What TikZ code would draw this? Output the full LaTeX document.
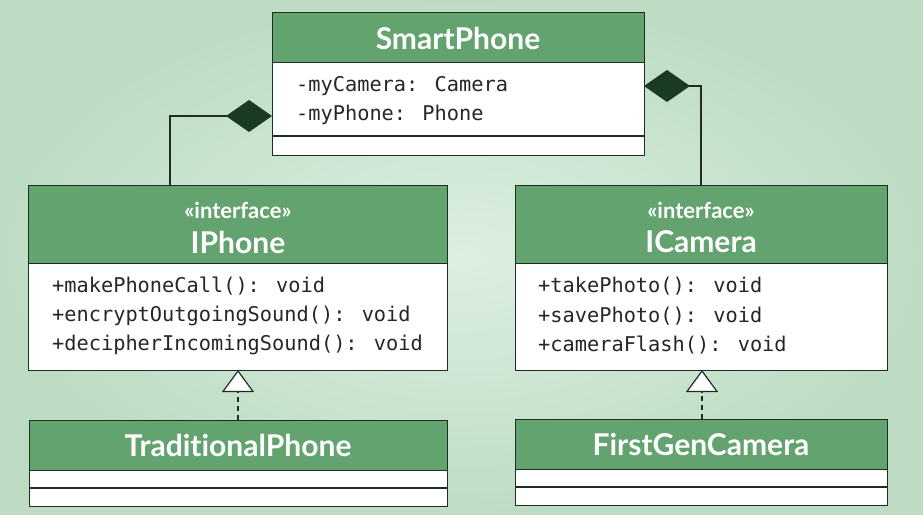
\documentclass[tikz,border=0pt]{standalone}
\usepackage{fontspec}
\setmainfont{Lato}[Ligatures=NoCommon]
\newfontfamily\monofam{DejaVu Sans Mono}
\usetikzlibrary{arrows.meta,positioning}
\definecolor{hdrgreen}{RGB}{99,163,111}
\definecolor{bgA}{RGB}{220,239,224}
\definecolor{bgB}{RGB}{190,220,196}
\definecolor{edge}{RGB}{30,45,33}
\definecolor{dia}{RGB}{27,58,35}
\tikzset{
  hdr/.style={draw=edge, line width=1.2pt, fill=hdrgreen, text=white, anchor=north west, inner sep=0pt},
  bodybox/.style={draw=edge, line width=1.2pt, fill=white, anchor=north west, inner sep=0pt},
  ttl/.style={text=white, font=\bfseries\fontsize{30}{32}\selectfont, inner sep=0pt},
  stereo/.style={text=white, font=\bfseries\fontsize{22}{24}\selectfont, inner sep=0pt},
  memb/.style={text=black!85, font=\monofam\fontsize{20.3}{22}\selectfont, anchor=west, inner sep=0pt},
  comp/.style={draw=edge, line width=1.2pt, -{Diamond[length=46pt,width=32pt,fill=dia,color=dia]}},
  realz/.style={draw=edge, line width=1.2pt, dashed, dash pattern=on 5pt off 4pt, -{Triangle[open,length=22pt,width=32pt,fill=white,color=edge]}}
}
\begin{document}
\begin{tikzpicture}[x=1pt,y=-1pt]
\useasboundingbox (0,0) rectangle (923,514);
\shade[inner color=bgA, outer color=bgB] (0,0) rectangle (923,514);

% SmartPhone
\node[bodybox, minimum width=372pt, minimum height=143pt] (spb) at (272,12) {};
\node[hdr, minimum width=372pt, minimum height=50pt] (sph) at (272,12) {};
\node[ttl] (spt) at (458,38) {SmartPhone};
\draw[draw=edge, line width=1.2pt] (272,136) -- (644,136);
\node[memb] (sp1) at (296,86) {-myCamera: Camera};
\node[memb] (sp2) at (296,115) {-myPhone: Phone};

% IPhone
\node[bodybox, minimum width=419pt, minimum height=185pt] (ipb) at (28,185) {};
\node[hdr, minimum width=419pt, minimum height=78pt] (iph) at (28,185) {};
\node[stereo] (ips) at (238,210) {«interface»};
\node[ttl] (ipt) at (238,242) {IPhone};
\node[memb] (ip1) at (52,286) {+makePhoneCall(): void};
\node[memb] (ip2) at (52,316) {+encryptOutgoingSound(): void};
\node[memb] (ip3) at (52,345) {+decipherIncomingSound(): void};

% ICamera
\node[bodybox, minimum width=372pt, minimum height=185pt] (icb) at (515,185) {};
\node[hdr, minimum width=372pt, minimum height=78pt] (ich) at (515,185) {};
\node[stereo] (ics) at (701,210) {«interface»};
\node[ttl] (ict) at (701,242) {ICamera};
\node[memb] (ic1) at (538,286) {+takePhoto(): void};
\node[memb] (ic2) at (538,316) {+savePhoto(): void};
\node[memb] (ic3) at (538,345) {+cameraFlash(): void};

% TraditionalPhone
\node[bodybox, minimum width=418pt, minimum height=86pt] (tpb) at (29,420) {};
\node[hdr, minimum width=418pt, minimum height=50pt] (tph) at (29,420) {};
\node[ttl] (tpt) at (238,445) {TraditionalPhone};
\draw[draw=edge, line width=1.2pt] (29,488) -- (447,488);

% FirstGenCamera
\node[bodybox, minimum width=372pt, minimum height=86pt] (fgb) at (515,419) {};
\node[hdr, minimum width=372pt, minimum height=50pt] (fgh) at (515,419) {};
\node[ttl] (fgt) at (701,444) {FirstGenCamera};
\draw[draw=edge, line width=1.2pt] (515,487) -- (887,487);

% connectors
\coordinate (a1) at (170,185);
\coordinate (a1e) at (272,116);
\draw[comp] (a1) |- (a1e);
\coordinate (a2) at (701,185);
\coordinate (a2e) at (644,86);
\draw[comp] (a2) |- (a2e);

\coordinate (r1s) at (238,420);
\coordinate (r1e) at (238,370);
\draw[realz] (r1s) -- (r1e);
\coordinate (r2s) at (702,419);
\coordinate (r2e) at (702,370);
\draw[realz] (r2s) -- (r2e);
\end{tikzpicture}
\end{document}
